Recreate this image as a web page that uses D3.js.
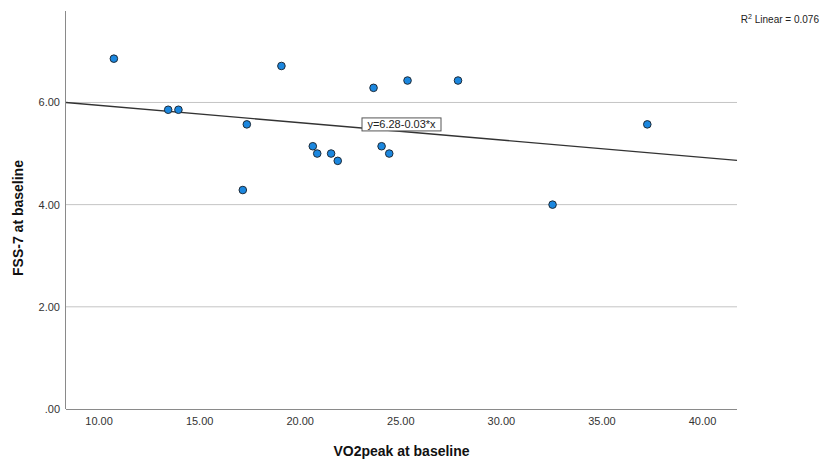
<!DOCTYPE html>
<html>
<head>
<meta charset="utf-8">
<script src="https://cdn.jsdelivr.net/npm/d3@7"></script>
<style>
  body { margin: 0; background: #fff; }
  text { font-family: "Liberation Sans", Arial, sans-serif; }
</style>
</head>
<body>
<svg id="chart" width="821" height="461"></svg>
<script>
// VO2peak (x) and FSS-7 (y) at baseline
const vo2peak = [10.76, 13.46, 13.97, 17.37, 17.17, 19.09, 20.65, 20.87, 21.56, 21.89,
                 23.67, 24.07, 24.45, 25.36, 27.87, 32.57, 37.28];
const fss7 = [6.857, 5.857, 5.857, 5.571, 4.286, 6.714, 5.143, 5.0, 5.0, 4.857,
              6.286, 5.143, 5.0, 6.429, 6.429, 4.0, 5.571];
const xTicks = [10, 15, 20, 25, 30, 35, 40];
const yTicks = [0, 2, 4, 6];
const fitIntercept = 6.285;
const fitSlope = -0.034;
const fitLabel = "y=6.28-0.03*x";
const r2Label = "0.076";

const svg = d3.select("#chart");
const mLeft = 66, mRight = 737, mTop = 11, mBottom = 409;

let x = d3.scaleLinear().domain([8.38, 41.74]).range([mLeft, mRight]);
let y = d3.scaleLinear().domain([0, 7.79]).range([mBottom, mTop]);

let fmtY = function (d) { return d === 0 ? ".00" : d3.format(".2f")(d); };

// grid lines
svg.selectAll("line.grid")
    .data(yTicks.filter(function (d) { return d > 0; }))
    .enter().append("line")
    .attr("class", "grid")
    .attr("x1", mLeft).attr("x2", mRight)
    .attr("y1", function (d) { return y(d); })
    .attr("y2", function (d) { return y(d); })
    .style("stroke", "#c4c4c4")
    .style("stroke-width", "1px");

// axes
let yAxis = d3.axisLeft(y).tickValues(yTicks).tickFormat(fmtY).tickSize(0).tickPadding(6);
let xAxis = d3.axisBottom(x).tickValues(xTicks).tickFormat(d3.format(".2f")).tickSize(0).tickPadding(8);

let gy = svg.append("g").attr("transform", "translate(" + mLeft + ",0)").call(yAxis);
let gx = svg.append("g").attr("transform", "translate(0," + mBottom + ")").call(xAxis);

[gx, gy].forEach(function (g) {
    g.select(".domain").style("stroke", "#8a8a8a").style("stroke-width", "1px");
    g.selectAll("text").style("font-size", "11px").style("fill", "#333")
        .style("font-family", "'Liberation Sans', Arial, sans-serif");
});
gx.select(".domain").attr("d", "M" + mLeft + ",0.5H" + mRight);
gy.select(".domain").attr("d", "M-0.5," + mTop + "V" + mBottom);

// fit line
let x0 = x.domain()[0], x1 = x.domain()[1];
svg.append("line")
    .attr("x1", x(x0)).attr("y1", y(fitIntercept + fitSlope * x0))
    .attr("x2", x(x1)).attr("y2", y(fitIntercept + fitSlope * x1))
    .style("stroke", "#333")
    .style("stroke-width", "1.4px");

// points
svg.selectAll("circle")
    .data(vo2peak)
    .enter().append("circle")
    .attr("cx", function (d) { return x(d); })
    .attr("cy", function (d, i) { return y(fss7[i]); })
    .attr("r", 3.8)
    .style("fill", "#1b87df")
    .style("stroke", "#1e2b38")
    .style("stroke-width", "1px");

// fit label box
let xm = (x0 + x1) / 2;
let lbl = svg.append("g")
    .attr("transform", "translate(" + x(xm) + "," + y(fitIntercept + fitSlope * xm) + ")");
lbl.append("rect")
    .attr("x", -39.5).attr("y", -13.5)
    .attr("width", 79).attr("height", 13)
    .style("fill", "#fff")
    .style("stroke", "#555")
    .style("stroke-width", "1px");
lbl.append("text")
    .attr("x", 0).attr("y", -3)
    .attr("text-anchor", "middle")
    .style("font-size", "11px")
    .style("fill", "#222")
    .text(fitLabel);

// R2 label
let r2 = svg.append("text")
    .attr("x", 819).attr("y", 23)
    .attr("text-anchor", "end")
    .style("font-size", "10px")
    .style("fill", "#222");
r2.append("tspan").text("R");
r2.append("tspan").attr("dy", -4).style("font-size", "7px").text("2");
r2.append("tspan").attr("dy", 4).text(" Linear = " + r2Label);

// axis titles
svg.append("text")
    .attr("x", (mLeft + mRight) / 2).attr("y", 456)
    .attr("text-anchor", "middle")
    .style("font-size", "14px")
    .style("font-weight", "bold")
    .style("fill", "#111")
    .text("VO2peak at baseline");

svg.append("text")
    .attr("transform", "translate(23,218) rotate(-90)")
    .attr("text-anchor", "middle")
    .style("font-size", "14px")
    .style("font-weight", "bold")
    .style("fill", "#111")
    .text("FSS-7 at baseline");
</script>
</body>
</html>
